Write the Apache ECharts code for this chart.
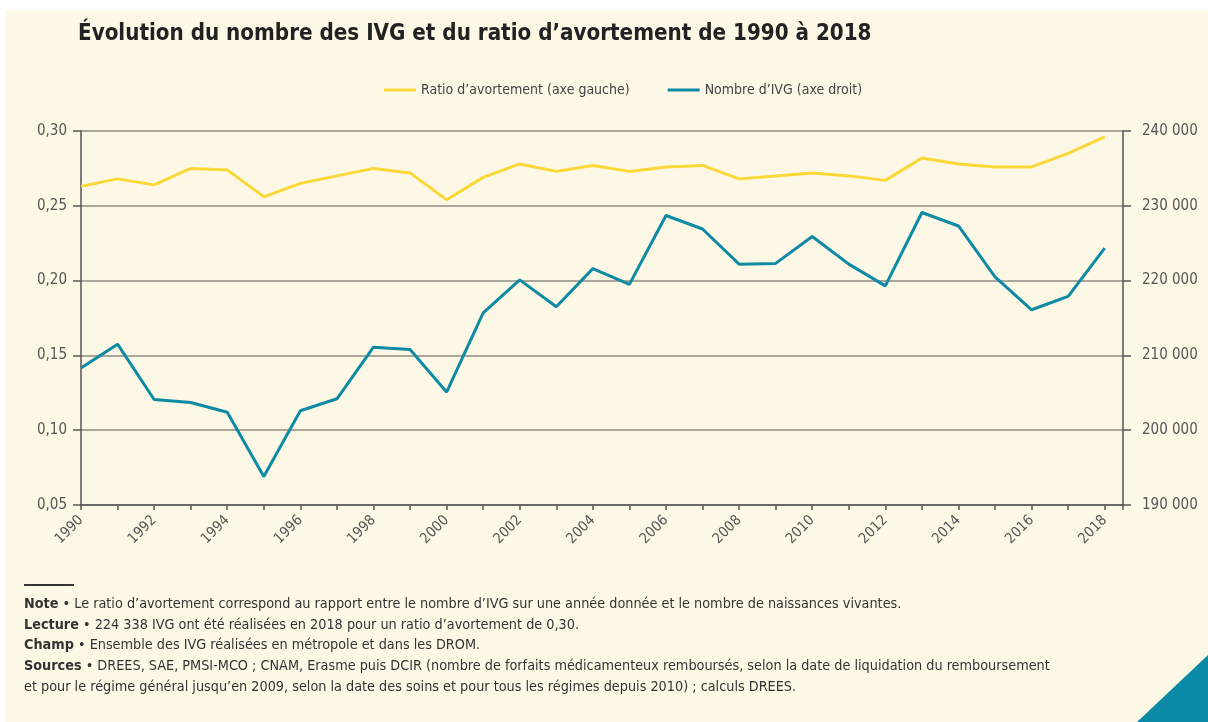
<!DOCTYPE html>
<html>
<head>
<meta charset="utf-8">
<script src="https://cdn.jsdelivr.net/npm/echarts@6/dist/echarts.min.js"></script>
<style>
  html, body { margin: 0; padding: 0; background: #fff; }
  #main { width: 1208px; height: 722px; }
</style>
</head>
<body>
<div id="main"></div>
<script>
var years = [1990, 1991, 1992, 1993, 1994, 1995, 1996, 1997, 1998, 1999,
             2000, 2001, 2002, 2003, 2004, 2005, 2006, 2007, 2008, 2009,
             2010, 2011, 2012, 2013, 2014, 2015, 2016, 2017, 2018];
// ratio d'avortement (axe gauche)
var ratio = [0.263, 0.268, 0.264, 0.275, 0.274, 0.256, 0.265, 0.270, 0.275, 0.272,
             0.254, 0.269, 0.278, 0.273, 0.277, 0.273, 0.276, 0.277, 0.268, 0.270,
             0.272, 0.270, 0.267, 0.282, 0.278, 0.276, 0.276, 0.285, 0.296];
// nombre d'IVG (axe droit)
var nombre = [208300, 211500, 204100, 203700, 202400, 193800, 202600, 204200, 211100, 210800,
              205100, 215700, 220100, 216500, 221600, 219500, 228700, 226900, 222200, 222300,
              225900, 222200, 219300, 229100, 227300, 220500, 216100, 217900, 224338];
var leftTicks = { min: 0.05, max: 0.30, step: 0.05 };
var rightTicks = { min: 190000, max: 240000, step: 10000 };

var noteLines = [
  ['Note', ' • Le ratio d’avortement correspond au rapport entre le nombre d’IVG sur une année donnée et le nombre de naissances vivantes.'],
  ['Lecture', ' • 224 338 IVG ont été réalisées en 2018 pour un ratio d’avortement de 0,30.'],
  ['Champ', ' • Ensemble des IVG réalisées en métropole et dans les DROM.'],
  ['Sources', ' • DREES, SAE, PMSI-MCO ; CNAM, Erasme puis DCIR (nombre de forfaits médicamenteux remboursés, selon la date de liquidation du remboursement'],
  ['', 'et pour le régime général jusqu’en 2009, selon la date des soins et pour tous les régimes depuis 2010) ; calculs DREES.']
];

var FONT = '"Liberation Sans Narrow", "DejaVu Sans Condensed", sans-serif';
var YELLOW = '#fbd838';
var TEAL = '#0f8aa5';
var CREAM = '#fdf8e6';

function pairs(vals) {
  return years.map(function (y, i) { return [y, vals[i]]; });
}
function thousands(v) {
  return String(v).replace(/\B(?=(\d{3})+(?!\d))/g, ' ');
}

var graphics = [
  { type: 'rect', z: -100, silent: true, shape: { x: 6, y: 10, width: 1202, height: 712 }, style: { fill: CREAM } },
  { type: 'line', shape: { x1: 24, y1: 585, x2: 74, y2: 585 }, style: { stroke: '#333', lineWidth: 2 } },
  { type: 'polygon', shape: { points: [[1137, 722], [1208, 655], [1208, 722]] }, style: { fill: '#0b8aa8' } }
];
noteLines.forEach(function (ln, i) {
  graphics.push({
    type: 'text', left: 24, top: 597 + i * 20.8,
    style: {
      text: (ln[0] ? '{b|' + ln[0] + '}' : '') + ln[1],
      fontFamily: FONT, fontSize: 14.3, fill: '#333',
      rich: { b: { fontFamily: FONT, fontSize: 14.3, fontWeight: 'bold', color: '#222' } }
    }
  });
});

var myChart = echarts.init(document.getElementById('main'));

var option = {
  backgroundColor: '#fff',
  animation: false,
  textStyle: { fontFamily: FONT },
  title: {
    text: 'Évolution du nombre des IVG et du ratio d’avortement de 1990 à 2018',
    left: 73, top: 18,
    textStyle: { fontFamily: FONT, fontSize: 22.2, fontWeight: 'bold', color: '#222' }
  },
  legend: {
    left: 379, top: 78,
    icon: 'rect', itemWidth: 32, itemHeight: 3, itemGap: 38,
    textStyle: { fontFamily: FONT, fontSize: 14, color: '#444' },
    data: ['Ratio d’avortement (axe gauche)', 'Nombre d’IVG (axe droit)']
  },
  grid: { left: 81, right: 85, top: 131, bottom: 217, containLabel: false },
  xAxis: {
    type: 'value', min: 1990, max: 2018.5, interval: 1,
    axisLine: { lineStyle: { color: '#555', width: 1.5 } },
    axisTick: { length: 5, lineStyle: { color: '#555', width: 1.5 } },
    splitLine: { show: false },
    axisLabel: {
      rotate: 45, fontSize: 14.5, color: '#555', margin: 13,
      formatter: function (v) { return (v % 2 === 0 && v <= 2018) ? String(v) : ''; }
    }
  },
  yAxis: [
    {
      type: 'value', position: 'left',
      min: leftTicks.min, max: leftTicks.max, interval: leftTicks.step,
      axisLine: { show: true, lineStyle: { color: '#555', width: 1.5 } },
      axisTick: { show: true, length: 8, lineStyle: { color: '#555', width: 1.5 } },
      splitLine: { show: true, lineStyle: { color: '#8e8b80', width: 1.5 } },
      axisLabel: {
        fontSize: 15, color: '#555', margin: 14,
        formatter: function (v) { return v.toFixed(2).replace('.', ','); }
      }
    },
    {
      type: 'value', position: 'right',
      min: rightTicks.min, max: rightTicks.max, interval: rightTicks.step,
      axisLine: { show: true, lineStyle: { color: '#555', width: 1.5 } },
      axisTick: { show: true, length: 8, lineStyle: { color: '#555', width: 1.5 } },
      splitLine: { show: false },
      axisLabel: { fontSize: 15, color: '#555', margin: 19, formatter: thousands }
    }
  ],
  series: [
    {
      name: 'Ratio d’avortement (axe gauche)', type: 'line', yAxisIndex: 0,
      showSymbol: false, color: YELLOW,
      lineStyle: { width: 3, color: YELLOW },
      data: pairs(ratio)
    },
    {
      name: 'Nombre d’IVG (axe droit)', type: 'line', yAxisIndex: 1,
      showSymbol: false, color: TEAL,
      lineStyle: { width: 3, color: TEAL },
      data: pairs(nombre)
    }
  ],
  graphic: graphics
};

myChart.setOption(option);
</script>
</body>
</html>
